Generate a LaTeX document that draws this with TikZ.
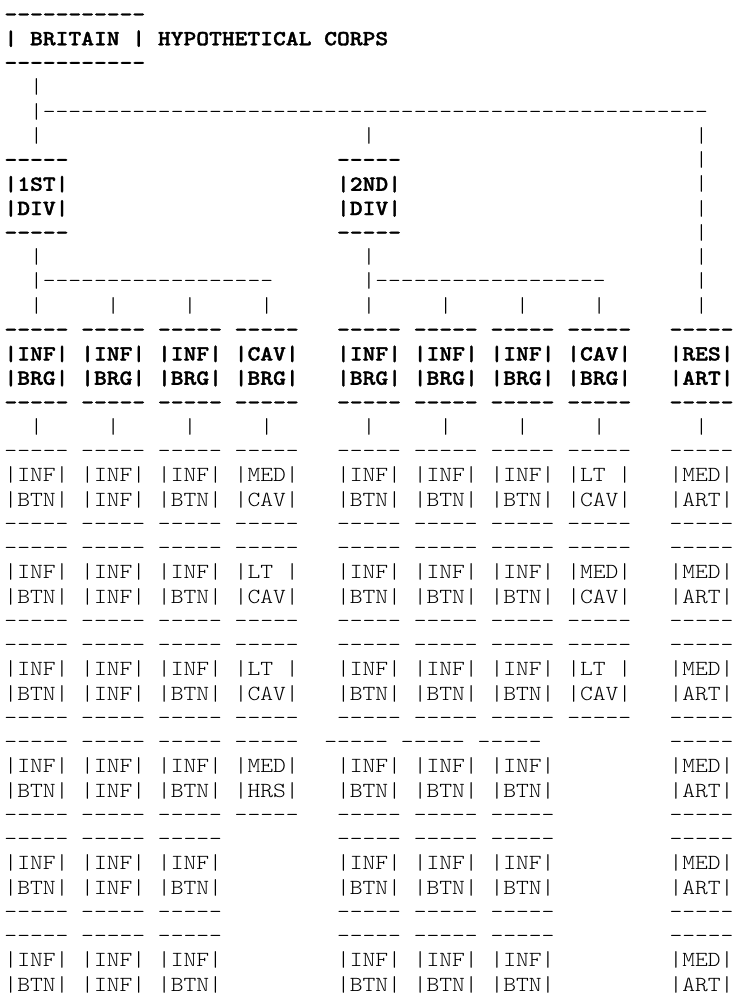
\documentclass[tikz,border=0pt]{standalone}
\usepackage{fontspec}
\setmonofont{lmmonolt10-regular.otf}[BoldFont=lmmonolt10-bold.otf,BoldFeatures={FakeBold=1.5},FakeStretch=1.1331]
\tikzset{
 rg/.style={anchor=base west,inner sep=0pt,outer sep=0pt,text=black,font=\ttfamily\fontsize{21.5}{24.25}\selectfont},
 bd/.style={rg,font=\ttfamily\bfseries\fontsize{21.5}{24.25}\selectfont}
}
\newcommand\asc[5][rg]{\node[#1] (#2) at ({(4.5+(#3)*12.79)*1pt},{(-21-(#4)*24.25)*1pt}) {#5};}
\newcommand\blk[2]{\foreach \c/\tc/\xa/\xb in {#2}{%
 \asc{t\c-#1}{\tc}{#1}{-----}%
 \asc{a\c-#1}{\c}{#1+1}{|\xa|}%
 \asc{b\c-#1}{\c}{#1+2}{|\xb|}}}
\newcommand\dashrow[2]{\foreach \c in {#2}{\asc{e\c-#1}{\c}{#1}{-----}}}
\begin{document}
\begin{tikzpicture}
\useasboundingbox (0,0) rectangle (734pt,-1005pt);
\fill[white] (0,0) rectangle (734pt,-1005pt);
% corps header
\asc[bd]{hdrT}{0}{0}{-----------}
\asc[bd]{hdr}{0}{1}{| BRITAIN | HYPOTHETICAL CORPS}
\asc[bd]{hdrB}{0}{2}{-----------}
\asc{v3}{2}{3}{|}
\asc{h4}{2}{4}{|----------------------------------------------------}
\foreach \c in {2,28,54} {\asc{v5-\c}{\c}{5}{|}}
% divisions
\foreach \c/\xa/\xb in {0/1ST/DIV,26/2ND/DIV}{
 \asc[bd]{d\c-6}{\c}{6}{-----}
 \asc[bd]{d\c-7}{\c}{7}{|\xa|}
 \asc[bd]{d\c-8}{\c}{8}{|\xb|}
 \asc[bd]{d\c-9}{\c}{9}{-----}
 \asc{v10-\c}{\c+2}{10}{|}
 \asc{h11-\c}{\c+2}{11}{|------------------}
}
\foreach \L in {6,...,12} {\asc{r\L}{54}{\L}{|}}
\foreach \c in {2,8,14,20,28,34,40,46} {\asc{v12-\c}{\c}{12}{|}}
% brigades
\foreach \c/\xa/\xb in {0/INF/BRG,6/INF/BRG,12/INF/BRG,18/CAV/BRG,26/INF/BRG,32/INF/BRG,38/INF/BRG,44/CAV/BRG,52/RES/ART}{
 \asc[bd]{g\c-13}{\c}{13}{-----}
 \asc[bd]{g\c-14}{\c}{14}{|\xa|}
 \asc[bd]{g\c-15}{\c}{15}{|\xb|}
 \asc[bd]{g\c-16}{\c}{16}{-----}
 \asc{v17-\c}{\c+2}{17}{|}
}
% units
\blk{18}{0/0/INF/BTN,6/6/INF/INF,12/12/INF/BTN,18/18/MED/CAV,26/26/INF/BTN,32/32/INF/BTN,38/38/INF/BTN,44/44/{LT\ }/CAV,52/52/MED/ART}
\dashrow{21}{0,6,12,18,26,32,38,44,52}
\blk{22}{0/0/INF/BTN,6/6/INF/INF,12/12/INF/BTN,18/18/{LT\ }/CAV,26/26/INF/BTN,32/32/INF/BTN,38/38/INF/BTN,44/44/MED/CAV,52/52/MED/ART}
\dashrow{25}{0,6,12,18,26,32,38,44,52}
\blk{26}{0/0/INF/BTN,6/6/INF/INF,12/12/INF/BTN,18/18/{LT\ }/CAV,26/26/INF/BTN,32/32/INF/BTN,38/38/INF/BTN,44/44/{LT\ }/CAV,52/52/MED/ART}
\dashrow{29}{0,6,12,18,26,32,38,44,52}
\blk{30}{0/0/INF/BTN,6/6/INF/INF,12/12/INF/BTN,18/18/MED/HRS,26/25/INF/BTN,32/31/INF/BTN,38/37/INF/BTN,52/52/MED/ART}
\dashrow{33}{0,6,12,18,26,32,38,52}
\blk{34}{0/0/INF/BTN,6/6/INF/INF,12/12/INF/BTN,26/26/INF/BTN,32/32/INF/BTN,38/38/INF/BTN,52/52/MED/ART}
\dashrow{37}{0,6,12,26,32,38,52}
\blk{38}{0/0/INF/BTN,6/6/INF/INF,12/12/INF/BTN,26/26/INF/BTN,32/32/INF/BTN,38/38/INF/BTN,52/52/MED/ART}
\end{tikzpicture}
\end{document}
